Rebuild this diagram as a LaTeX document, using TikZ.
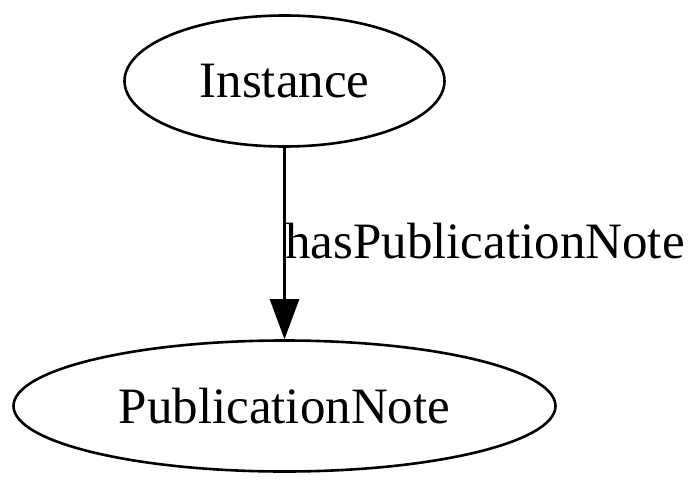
\documentclass[tikz,border=0pt]{standalone}
\usepackage{fontspec}
\setmainfont{Liberation Serif}
\usetikzlibrary{shapes.geometric,arrows.meta}
\begin{document}
\begin{tikzpicture}[x=1pt,y=-1pt,
  gnode/.style={draw,ellipse,line width=2.6pt,inner sep=0pt,font=\fontsize{51}{60}\selectfont},
  gedge/.style={line width=2.6pt,-{Triangle[length=40pt,width=29pt]}},
  glabel/.style={font=\fontsize{51}{60}\selectfont,inner sep=0pt}]
\useasboundingbox (0,0) rectangle (700,487);
\node[gnode,minimum width=320pt,minimum height=131pt] (inst) at (284.5,81) {Instance};
\node[gnode,minimum width=542pt,minimum height=131pt] (pub) at (284.5,406) {PublicationNote};
\draw[gedge] (inst.south) -- (pub.north);
\node[glabel,anchor=base west] (lbl) at (285,258) {hasPublicationNote};
\end{tikzpicture}
\end{document}
